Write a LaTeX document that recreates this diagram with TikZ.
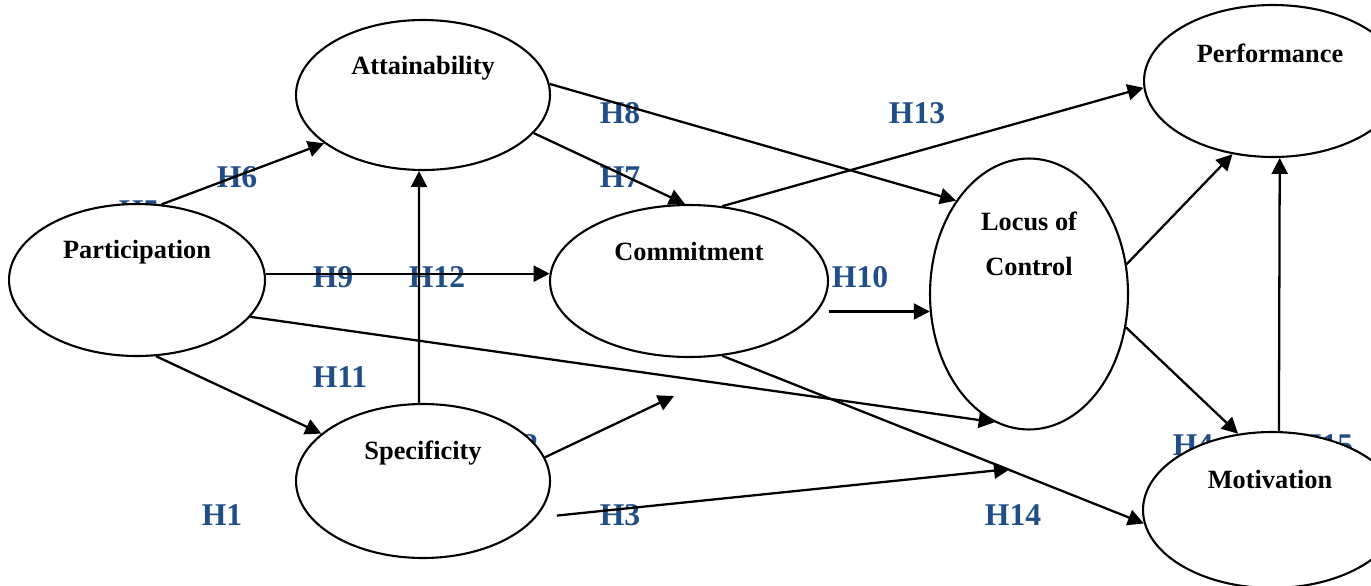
\documentclass[tikz,border=0pt]{standalone}
\usepackage{fontspec}
\setmainfont{Liberation Serif}
\usetikzlibrary{arrows.meta,shapes.geometric}
\definecolor{hypblue}{HTML}{1F4E89}

\begin{document}
\begin{tikzpicture}[x=0.02cm, y=-0.02cm,
    construct/.style={ellipse, draw, fill=white, line width=1.2pt, inner sep=0pt},
    cname/.style={font=\fontsize{15}{26}\selectfont\bfseries, align=center},
    hyp/.style={text=hypblue, font=\fontsize{18}{20}\selectfont\bfseries},
    link/.style={-{Triangle[length=0.32cm, width=0.32cm]}, line width=1.3pt}]
    \clip (0,0) rectangle (1371,585);

    % hypothesis labels (some sit behind the ellipses)
    \node[hyp] (h5) at (139,211) {H5};
    \node[hyp] (h6) at (237,177) {H6};
    \node[hyp] (h7) at (620,177) {H7};
    \node[hyp] (h8) at (620,113) {H8};
    \node[hyp] (h13) at (917,113) {H13};
    \node[hyp] (h9) at (333,277) {H9};
    \node[hyp] (h12) at (437,277) {H12};
    \node[hyp] (h10) at (860,277) {H10};
    \node[hyp] (h11) at (340,377) {H11};
    \node[hyp] (h1) at (222,515) {H1};
    \node[hyp] (h2) at (518,445) {H2};
    \node[hyp] (h3) at (620,515) {H3};
    \node[hyp] (h14) at (1013,515) {H14};
    \node[hyp] (h4) at (1193,445) {H4};
    \node[hyp] (h15) at (1325,445) {H15};

    % constructs
    \node[construct, minimum width=5.08cm, minimum height=3.0cm] (att) at (423,95) {};
    \node[construct, minimum width=5.12cm, minimum height=3.04cm] (part) at (137,280) {};
    \node[construct, minimum width=5.08cm, minimum height=3.08cm] (spec) at (423,481) {};
    \node[construct, minimum width=5.56cm, minimum height=3.04cm] (comm) at (689,281) {};
    \node[construct, minimum width=3.96cm, minimum height=5.42cm] (locus) at (1029,294) {};
    \node[construct, minimum width=5.16cm, minimum height=3.04cm] (perf) at (1273,81) {};
    \node[construct, minimum width=5.16cm, minimum height=3.12cm] (mot) at (1272,510) {};

    \node[cname] (atttext) at (423,68) {Attainability};
    \node[cname] (parttext) at (137,252) {Participation};
    \node[cname] (spectext) at (423,453) {Specificity};
    \node[cname] (commtext) at (689,251) {Commitment};
    \node[cname] (locustext) at (1029,244) {Locus of\\Control};
    \node[cname] (perftext) at (1270,53) {Performance};
    \node[cname] (mottext) at (1270,479) {Motivation};

    \coordinate (h2end) at (674,396);
    \coordinate (h3end) at (1010,469);

    \draw[link] (part.72) -- (att.206);
    \draw[link] (att.-19) -- (comm.93);
    \draw[link] (att.5) -- (locus.128);
    \draw[link] (part.east |- comm.177) -- (comm.177);
    \draw[link] (spec.93) -- (att.-93);
    \draw[link] (part.-76) -- (spec.155);
    \draw[link] (spec.11) -- (h2end);
    \draw[link, shorten <=0.42cm] (spec.-18) -- (h3end);
    \draw[link] (part.-18) -- (locus.255);
    \draw[link] (comm.66) -- (perf.183);
    \draw[link] (comm.east |- locus.190) -- (locus.190);
    \draw[link] (comm.-66) -- (mot.186);
    \draw[link] (locus.17) -- (perf.241);
    \draw[link] (locus.-19) -- (mot.114);
    \draw[link] (mot.85) -- (perf.-85);
\end{tikzpicture}
\end{document}
